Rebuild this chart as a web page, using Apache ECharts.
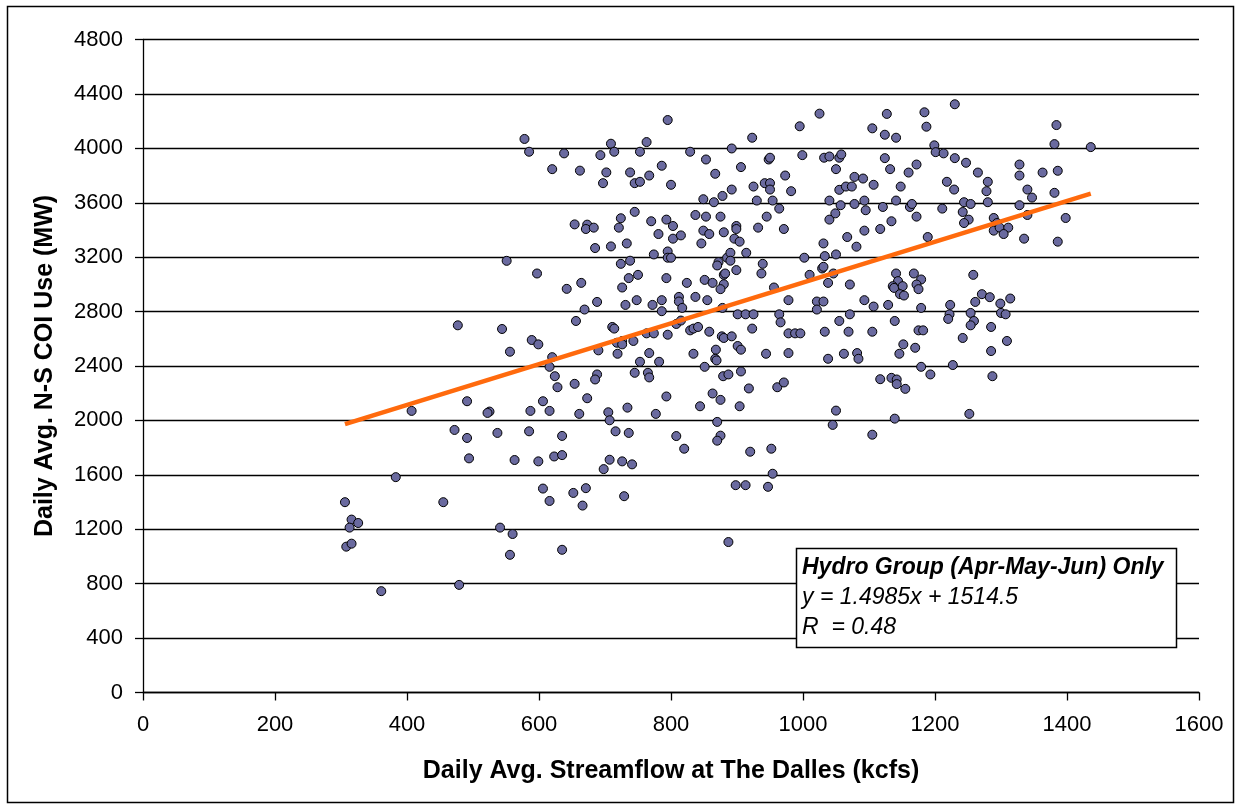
<!DOCTYPE html>
<html>
<head>
<meta charset="utf-8">
<script src="https://cdn.jsdelivr.net/npm/echarts@6/dist/echarts.min.js"></script>
<style>
html,body{margin:0;padding:0;background:#fff;}
#chart{width:1241px;height:808px;}
</style>
</head>
<body>
<div id="chart"></div>
<script>
// ---- Data ----
const xTitle = 'Daily Avg. Streamflow at The Dalles (kcfs)';
const yTitle = 'Daily Avg. N-S COI Use (MW)';
const boxTitle = 'Hydro Group (Apr-May-Jun) Only';
const boxEquation = 'y = 1.4985x + 1514.5';
const boxR = 'R  = 0.48';
const trendSlope = 1.4985;
const trendIntercept = 1514.5;
const xTicks = [0, 200, 400, 600, 800, 1000, 1200, 1400, 1600];
const yTicks = [0, 400, 800, 1200, 1600, 2000, 2400, 2800, 3200, 3600, 4000, 4400, 4800];

// Points in the 300-700 kcfs range
const pointsLow = [
[578,4069],[585,3975],[638,3963],[620,3847],[654,3441],[551,3173],[597,3080],[642,2967],[656,2731],[477,2699],
[544,2672],[589,2591],[599,2559],[556,2505],
[620,2465],[616,2394],[624,2325],[628,2244],[654,2269],[491,2141],[407,2070],[525,2065],[522,2055],[587,2070],
[606,2141],[616,2070],[472,1930],[491,1871],[537,1908],[585,1920],[635,1886],[494,1721],[563,1709],[599,1699],
[623,1735],[635,1745],[383,1583],[606,1499],[616,1408],[652,1467],[306,1399],[455,1399],[316,1271],[326,1246],
[313,1212],[308,1072],[316,1094],[541,1212],[560,1165],[556,1012],[635,1049],[361,745],[479,791]
];
// Points in the 660-1040 kcfs range
const pointsMid = [
[795,4208],[1025,4255],[995,4162],[923,4078],[709,4034],[763,4046],[693,3950],[714,3975],[753,3975],[829,3975],
[892,3999],[853,3918],[786,3872],[662,3836],[702,3823],[738,3823],[906,3862],[948,3918],[950,3931],[999,3950],
[1032,3931],[1040,3940],[867,3813],[973,3800],[697,3744],[745,3744],[753,3754],[767,3800],[800,3732],[925,3719],
[942,3744],[950,3744],[950,3697],[982,3685],[892,3697],[849,3626],[865,3604],[878,3650],[930,3616],[954,3616],
[964,3557],[1040,3616],[745,3533],[724,3486],[770,3464],[793,3476],[837,3510],[853,3498],[875,3498],[945,3498],
[1040,3476],[673,3439],[671,3407],[683,3417],[721,3417],[781,3370],[803,3429],[803,3336],[815,3360],[849,3395],
[858,3370],[846,3301],[880,3383],[899,3429],[899,3407],[896,3336],[904,3314],[932,3417],[971,3407],[1031,3301],
[685,3267],[709,3279],[733,3301],[774,3220],[795,3242],[795,3196],[800,3196],[872,3164],[870,3139],[885,3196],
[890,3232],[890,3174],[914,3232],[899,3105],[939,3151],[937,3080],[1002,3196],[1033,3208],[1029,3117],[1031,3129],
[1038,3011],[1010,3070],[724,3151],[738,3174],[664,3011],[736,3046],[750,3070],[726,2977],[793,3046],[824,3011],
[851,3033],[863,3011],[880,3070],[882,3080],[880,3001],[875,2965],[956,2977],[688,2871],[669,2815],[731,2849],
[748,2884],[772,2849],[786,2884],[812,2908],[812,2874],[817,2827],[786,2803],[837,2908],[855,2884],[878,2827],
[901,2780],[913,2780],[925,2780],[964,2780],[966,2721],[978,2884],[1021,2874],[1031,2874],[1021,2815],[711,2687],
[714,2675],[726,2584],[718,2571],[726,2559],[743,2584],[763,2640],[774,2640],[795,2630],[808,2709],[815,2734],
[829,2662],[834,2675],[841,2687],[858,2652],[877,2618],[880,2606],[892,2618],[923,2675],[978,2640],[988,2640],
[996,2640],[1033,2652],[690,2515],[767,2495],[834,2490],[868,2520],[901,2547],[906,2520],[944,2490],[978,2495],
[719,2490],[753,2431],[782,2431],[867,2453],[869,2441],[1038,2453],[851,2394],[688,2338],[685,2301],[745,2350],
[765,2350],[767,2316],[879,2325],[887,2338],[906,2360],[918,2235],[961,2244],[971,2279],[673,2163],[793,2176],
[863,2198],[875,2151],[844,2104],[904,2104],[734,2094],[705,2060],[707,2001],[661,2048],[777,2048],[870,1989],
[1050,2072],[1045,1967],[716,1920],[736,1908],[808,1885],[820,1792],[875,1888],[870,1851],[920,1770],[952,1792],
[707,1711],[726,1699],[741,1677],[698,1642],[954,1608],[671,1502],[729,1443],[666,1374],[898,1524],[913,1524],
[947,1512],[887,1106]
];
// Points in the 1040-1440 kcfs range
const pointsHigh = [
[1230,4324],[1127,4253],[1184,4265],[1187,4159],[1105,4147],[1124,4100],[1141,4078],[1384,4171],[1381,4031],[1436,4009],
[1199,4022],[1201,3972],[1213,3963],[1230,3928],[1247,3894],[1265,3822],[1328,3881],[1328,3800],[1363,3822],[1386,3835],
[1055,3931],[1058,3955],[1050,3847],[1124,3928],[1132,3847],[1172,3881],[1160,3822],[1078,3790],[1091,3778],[1055,3695],
[1065,3719],[1074,3719],[1107,3732],[1148,3719],[1218,3754],[1229,3697],[1280,3754],[1278,3685],[1340,3697],[1347,3638],
[1381,3673],[1057,3582],[1049,3522],[1078,3591],[1093,3616],[1095,3545],[1121,3569],[1141,3616],[1162,3569],[1165,3591],
[1172,3498],[1134,3464],[1211,3557],[1244,3604],[1254,3591],[1242,3532],[1251,3476],[1244,3451],[1280,3604],[1328,3582],
[1340,3510],[1289,3488],[1294,3451],[1289,3395],[1298,3417],[1311,3417],[1304,3370],[1398,3488],[1335,3336],[1386,3314],
[1093,3395],[1117,3407],[1067,3348],[1081,3277],[1189,3348],[1050,3220],[1046,3080],[1071,2999],[1141,3080],[1144,3024],
[1136,2987],[1138,2974],[1151,2987],[1147,2928],[1153,2918],[1168,3080],[1179,3036],[1172,2999],[1175,2965],[1093,2884],
[1107,2837],[1129,2849],[1179,2827],[1258,3070],[1261,2871],[1271,2928],[1283,2906],[1223,2849],[1222,2780],[1220,2746],
[1254,2790],[1259,2731],[1254,2699],[1299,2859],[1300,2790],[1307,2780],[1314,2896],[1285,2687],[1071,2780],[1055,2731],
[1069,2652],[1105,2652],[1139,2731],[1175,2662],[1182,2662],[1242,2606],[1309,2584],[1152,2559],[1170,2534],[1062,2490],
[1082,2495],[1146,2490],[1285,2510],
[1084,2453],[1179,2394],[1193,2338],[1227,2407],[1287,2325],[1117,2303],[1134,2313],[1142,2301],[1142,2267],[1155,2232],
[1139,2013],[1252,2048],[1105,1895]
];

const allPoints = pointsLow.concat(pointsMid, pointsHigh);
const xs = allPoints.map(p => p[0]);
const trendX0 = Math.min.apply(null, xs);
const trendX1 = Math.max.apply(null, xs);
const trendData = [
  [trendX0, trendSlope * trendX0 + trendIntercept],
  [trendX1, trendSlope * trendX1 + trendIntercept]
];

const FONT = 'Liberation Sans, Arial, sans-serif';
const chart = echarts.init(document.getElementById('chart'), null, {renderer: 'canvas'});
chart.setOption({
  backgroundColor: '#ffffff',
  animation: false,
  grid: {left: 143, right: 42, top: 39.5, bottom: 115.5, containLabel: false},
  xAxis: {
    type: 'value', min: xTicks[0], max: xTicks[xTicks.length - 1], interval: xTicks[1] - xTicks[0],
    name: xTitle, nameLocation: 'middle', nameGap: 66,
    nameTextStyle: {fontFamily: FONT, fontSize: 25, fontWeight: 'bold', color: '#000'},
    axisLine: {show: true, onZero: false, lineStyle: {color: '#000', width: 1.3}},
    axisTick: {show: true, length: 8, lineStyle: {color: '#000', width: 1.3}},
    axisLabel: {fontFamily: FONT, fontSize: 22, color: '#000', margin: 21, formatter: v => String(v)},
    splitLine: {show: false}
  },
  yAxis: {
    type: 'value', min: yTicks[0], max: yTicks[yTicks.length - 1], interval: yTicks[1] - yTicks[0],
    name: yTitle, nameLocation: 'middle', nameGap: 85,
    nameTextStyle: {fontFamily: FONT, fontSize: 25, fontWeight: 'bold', color: '#000'},
    axisLine: {show: true, onZero: false, lineStyle: {color: '#000', width: 1.3}},
    axisTick: {show: true, length: 8, lineStyle: {color: '#000', width: 1.3}},
    axisLabel: {fontFamily: FONT, fontSize: 22, color: '#000', margin: 20, formatter: v => String(v)},
    splitLine: {show: true, lineStyle: {color: '#000', width: 1.3}}
  },
  series: [
    {
      type: 'scatter', data: allPoints, symbol: 'circle', symbolSize: 9,
      itemStyle: {color: '#6A6A9F', borderColor: '#000', borderWidth: 1, opacity: 1},
      z: 2
    },
    {
      type: 'line', data: trendData, symbol: 'none',
      lineStyle: {color: '#FF6A0D', width: 4.5},
      z: 3
    }
  ],
  graphic: [
    {type: 'rect', shape: {x: 7.5, y: 6.5, width: 1226, height: 796},
     style: {fill: 'none', stroke: '#000', lineWidth: 1.5}, z: 10, silent: true},
    {type: 'rect', shape: {x: 796.5, y: 548.5, width: 380, height: 99},
     style: {fill: '#fff', stroke: '#000', lineWidth: 1.5}, z: 20},
    {type: 'text', x: 802, y: 568, z: 21,
     style: {text: boxTitle, font: 'italic bold 23px ' + FONT, fill: '#000', verticalAlign: 'middle'}},
    {type: 'text', x: 802, y: 598, z: 21,
     style: {text: boxEquation, font: 'italic 23px ' + FONT, fill: '#000', verticalAlign: 'middle'}},
    {type: 'text', x: 802, y: 628, z: 21,
     style: {text: boxR, font: 'italic 23px ' + FONT, fill: '#000', verticalAlign: 'middle'}}
  ]
});
</script>
</body>
</html>
